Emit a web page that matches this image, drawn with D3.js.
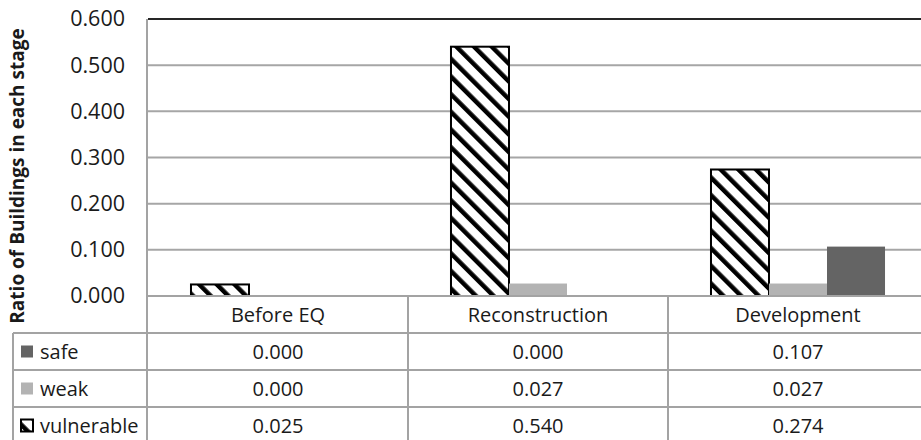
<!DOCTYPE html>
<html>
<head>
<meta charset="utf-8">
<script src="https://cdn.jsdelivr.net/npm/d3@7"></script>
<style>
  body { margin: 0; background: #fff; }
  text { font-family: "Open Sans", sans-serif; fill: #1a1a1a; }
</style>
</head>
<body>
<div class="chart"></div>
<script>
// 資料
const stages = ["Before EQ", "Reconstruction", "Development"]
const seriesNames = ["vulnerable", "weak", "safe"]
const vulnerable = [0.025, 0.540, 0.274]
const weak = [0.000, 0.027, 0.027]
const safe = [0.000, 0.000, 0.107]
const yTicks = [0, 0.1, 0.2, 0.3, 0.4, 0.5, 0.6]
// table rows top-down
const tableRows = ["safe", "weak", "vulnerable"]

const values = { vulnerable: vulnerable, weak: weak, safe: safe }
const colors = { safe: "#646464", weak: "#b3b3b3" }

function drawChart() {
  const width = 921
  const height = 440
  const svg = d3.select(".chart").append("svg")
    .attr("width", width)
    .attr("height", height)

  const left = 148
  const top = 19
  const bottom = 296
  const rowH = 37
  const tableFont = "20px"

  // pattern for vulnerable
  const defs = svg.append("defs")
  defs.append("pattern")
    .attr("id", "hatch")
    .attr("patternUnits", "userSpaceOnUse")
    .attr("width", 12.5)
    .attr("height", 12.5)
    .attr("patternTransform", "rotate(-45)")
    .call(p => {
      p.append("rect").attr("width", 12.5).attr("height", 12.5).attr("fill", "#fff")
      p.append("rect").attr("width", 4.5).attr("height", 12.5).attr("fill", "#000")
    })

  // 比例尺
  const xScale = d3.scaleBand()
    .domain(stages)
    .range([left, left + 260 * 3])
    .paddingInner(0)
    .paddingOuter(0)

  const xSub = d3.scaleBand()
    .domain(seriesNames)
    .range([0, xScale.bandwidth()])
    .paddingInner(0)
    .paddingOuter(0.741)

  const yScale = d3.scaleLinear()
    .domain([0, 0.6])
    .range([bottom, top])

  // gridlines
  svg.append("g")
    .selectAll("line")
    .data(yTicks.slice(1, -1))
    .enter()
    .append("line")
    .attr("x1", left).attr("x2", width)
    .attr("y1", d => yScale(d)).attr("y2", d => yScale(d))
    .attr("stroke", "#a6a6a6")
    .attr("stroke-width", 2)

  // top border
  svg.append("line")
    .attr("x1", left).attr("x2", width)
    .attr("y1", yScale(0.6)).attr("y2", yScale(0.6))
    .attr("stroke", "#262626")
    .attr("stroke-width", 2)

  // Y 軸
  const yAxis = d3.axisLeft(yScale)
    .tickValues(yTicks)
    .tickFormat(d3.format(".3f"))
    .tickSize(0)
    .tickPadding(23)

  const gy = svg.append("g")
    .attr("transform", `translate(${left}, 0)`)
    .call(yAxis)
  gy.select(".domain").remove()
  gy.selectAll("text")
    .style("font-size", "21.5px")
    .attr("fill", "#1a1a1a")

  // Y axis label
  svg.append("text")
    .attr("text-anchor", "middle")
    .attr("transform", "translate(24, 176) rotate(-90)")
    .style("font-size", "19px")
    .style("font-weight", "bold")
    .text("Ratio of Buildings in each stage")

  // bars
  seriesNames.forEach(s => {
    svg.append("g")
      .selectAll("rect")
      .data(stages)
      .enter()
      .append("rect")
      .attr("x", d => xScale(d) + xSub(s))
      .attr("width", xSub.bandwidth())
      .attr("y", (d, i) => yScale(values[s][i]))
      .attr("height", (d, i) => yScale(0) - yScale(values[s][i]))
      .attr("fill", s == "vulnerable" ? "url(#hatch)" : colors[s])
      .attr("stroke", s == "vulnerable" ? "#000" : "none")
      .attr("stroke-width", 2)
  })

  // data table
  const lineColor = "#a3a3a3"
  const tbl = svg.append("g")
  // horizontal lines
  tbl.append("line")
    .attr("x1", left).attr("x2", width)
    .attr("y1", bottom).attr("y2", bottom)
    .attr("stroke", lineColor).attr("stroke-width", 2)
  tableRows.forEach((r, i) => {
    tbl.append("line")
      .attr("x1", 13).attr("x2", width)
      .attr("y1", bottom + rowH * (i + 1)).attr("y2", bottom + rowH * (i + 1))
      .attr("stroke", lineColor).attr("stroke-width", 2)
  })
  // vertical lines
  tbl.append("line")
    .attr("x1", 13).attr("x2", 13)
    .attr("y1", bottom + rowH).attr("y2", height)
    .attr("stroke", lineColor).attr("stroke-width", 2)
  tbl.append("line")
    .attr("x1", left - 1).attr("x2", left - 1)
    .attr("y1", top).attr("y2", height)
    .attr("stroke", lineColor).attr("stroke-width", 2)
  stages.slice(1).forEach(c => {
    tbl.append("line")
      .attr("x1", xScale(c)).attr("x2", xScale(c))
      .attr("y1", bottom).attr("y2", height)
      .attr("stroke", lineColor).attr("stroke-width", 2)
  })

  // header
  tbl.selectAll(".hdr")
    .data(stages)
    .enter()
    .append("text")
    .attr("class", "hdr")
    .attr("x", d => xScale(d) + xScale.bandwidth() / 2)
    .attr("y", bottom + rowH / 2)
    .attr("dy", "0.35em")
    .attr("text-anchor", "middle")
    .style("font-size", tableFont)
    .text(d => d)

  // rows
  tableRows.forEach((r, i) => {
    const cy = bottom + rowH * (i + 1) + rowH / 2
    tbl.append("rect")
      .attr("x", 21).attr("y", cy - 6)
      .attr("width", 12).attr("height", 12)
      .attr("fill", r == "vulnerable" ? "url(#hatch)" : colors[r])
      .attr("stroke", r == "vulnerable" ? "#000" : "none")
      .attr("stroke-width", 2)
    tbl.append("text")
      .attr("x", 40).attr("y", cy)
      .attr("dy", "0.35em")
      .style("font-size", tableFont)
      .text(r)
    tbl.selectAll(".v" + r)
      .data(stages)
      .enter()
      .append("text")
      .attr("x", d => xScale(d) + xScale.bandwidth() / 2)
      .attr("y", cy)
      .attr("dy", "0.35em")
      .attr("text-anchor", "middle")
      .style("font-size", tableFont)
      .text((d, j) => d3.format(".3f")(values[r][j]))
  })
}

drawChart()
</script>
</body>
</html>
